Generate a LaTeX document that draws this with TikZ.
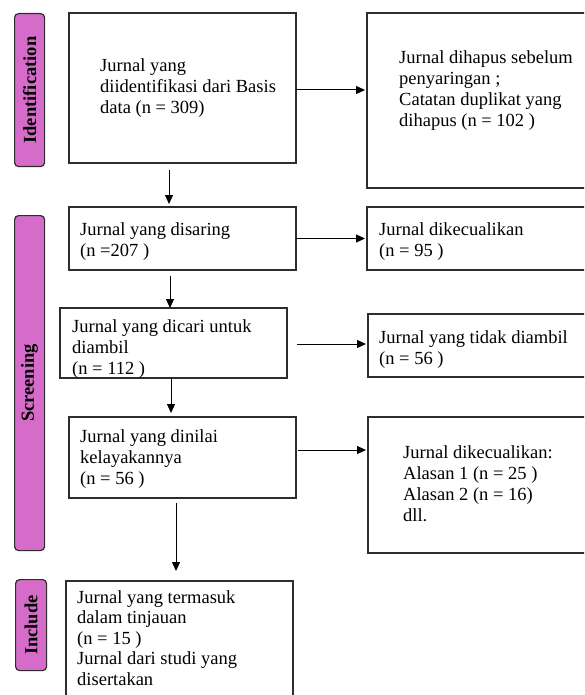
\documentclass[tikz,border=0pt]{standalone}
\usepackage{fontspec}
\setmainfont{Liberation Serif}
\usetikzlibrary{arrows.meta,calc}
\definecolor{phase}{RGB}{214,108,201}
\definecolor{edge}{RGB}{45,45,45}
\newcommand{\mylines}[1]{\begin{tabular}[t]{@{}l@{}}#1\end{tabular}}
\begin{document}
\begin{tikzpicture}[x=1pt,y=-1pt,
  box/.style={draw=edge,line width=1.3pt,rectangle,anchor=north west,inner sep=0pt,outer sep=0pt},
  txt/.style={anchor=base west,inner sep=0pt,font=\fontsize{18.5}{21}\selectfont},
  phasebox/.style={draw=edge,line width=1.2pt,fill=phase,rounded corners=4pt,rectangle,anchor=north west,inner sep=0pt},
  phasetxt/.style={rotate=90,inner sep=0pt,font=\fontsize{18.5}{20}\selectfont\bfseries},
  arr/.style={-{Triangle[length=9pt,width=8pt]},line width=1pt,black}]
\useasboundingbox (0,0) rectangle (584,695);
\clip (0,0) rectangle (584,695);
\fill[white] (0,0) rectangle (584,695);
% phase labels
\node[phasebox,minimum width=30pt,minimum height=153pt] (pid) at (14,13) {};
\node[phasetxt] (pidt) at (pid.center) {Identification};
\node[phasebox,minimum width=30pt,minimum height=335pt] (pscr) at (14,215) {};
\node[phasetxt] (pscrt) at (pscr.center) {Screening};
\node[phasebox,minimum width=31pt,minimum height=91pt] (pinc) at (15,579) {};
\node[phasetxt] (pinct) at (pinc.center) {Include};
% boxes
\node[box,minimum width=227pt,minimum height=150pt] (b1) at (69,13) {};
\node[txt] (t1) at (100,72) {\mylines{Jurnal yang\\diidentifikasi dari Basis\\data (n = 309)}};
\node[box,minimum width=240pt,minimum height=175pt] (b2) at (367,13) {};
\node[txt] (t2) at (399,64) {\mylines{Jurnal dihapus sebelum\\penyaringan ;\\Catatan duplikat yang\\dihapus (n = 102 )}};
\node[box,minimum width=227pt,minimum height=63pt] (b3) at (69,207) {};
\node[txt] (t3) at (80,235) {\mylines{Jurnal yang disaring\\(n =207 )}};
\node[box,minimum width=240pt,minimum height=63pt] (b4) at (367,207) {};
\node[txt] (t4) at (379,235) {\mylines{Jurnal dikecualikan\\(n = 95 )}};
\node[box,minimum width=227pt,minimum height=70pt] (b5) at (60,308) {};
\node[txt] (t5) at (72,332) {\mylines{Jurnal yang dicari untuk\\diambil\\(n = 112 )}};
\node[box,minimum width=240pt,minimum height=63pt] (b6) at (368,314) {};
\node[txt] (t6) at (379,343) {\mylines{Jurnal yang tidak diambil\\(n = 56 )}};
\node[box,minimum width=227pt,minimum height=81pt] (b7) at (69,417) {};
\node[txt] (t7) at (80,442) {\mylines{Jurnal yang dinilai\\kelayakannya\\(n = 56 )}};
\node[box,minimum width=240pt,minimum height=136pt] (b8) at (368,417) {};
\node[txt] (t8) at (403,458) {\mylines{Jurnal dikecualikan:\\Alasan 1 (n = 25 )\\Alasan 2 (n = 16)\\dll.}};
\node[box,minimum width=227pt,minimum height=140pt] (b9) at (66,581) {};
\node[txt,font=\fontsize{18.5}{20.5}\selectfont] (t9) at (77,603) {\mylines{Jurnal yang termasuk\\dalam tinjauan\\(n = 15 )\\Jurnal dari studi yang\\disertakan}};
% connectors
\draw[arr] ($(b1.east)+(0,2)$) -- ($(b1.east -| b2.west)+(-2,2)$);
\draw[arr] (b3.east) -- ($(b3.east -| b4.west)+(-2,0)$);
\draw[arr] ($(b5.east)+(10,1)$) -- ($(b5.east -| b6.west)+(-2,1)$);
\draw[arr] ($(b7.east)+(2,-7.5)$) -- ($(b7.east -| b8.west)+(-2,-7.5)$);
\coordinate (v1) at (169,170);
\draw[arr,shorten >=3pt] (v1) -- (v1 |- b3.north);
\coordinate (v2) at (170,276);
\draw[arr] (v2) -- (v2 |- b5.north);
\coordinate (v3) at (171,378);
\draw[arr,shorten >=4pt] (v3) -- (v3 |- b7.north);
\coordinate (v4) at (176,503);
\draw[arr,shorten >=10pt] (v4) -- (v4 |- b9.north);
\end{tikzpicture}
\end{document}
